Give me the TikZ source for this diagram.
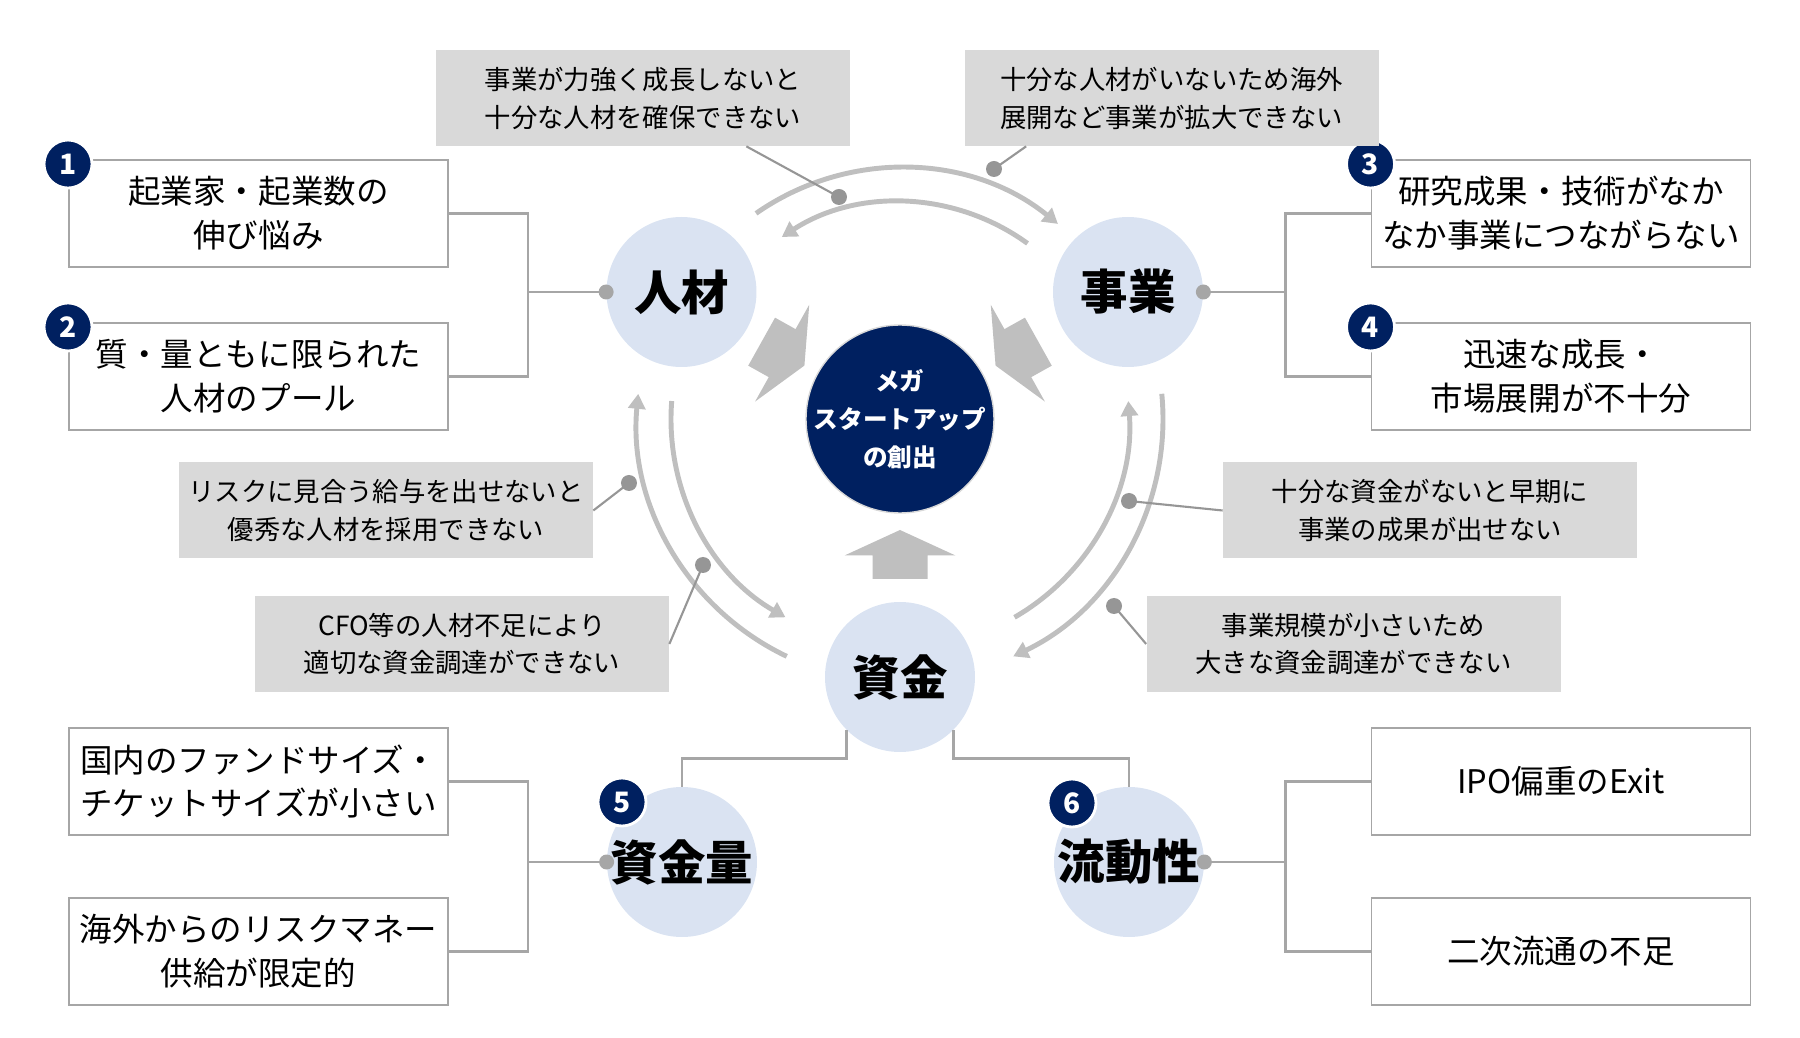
\documentclass[tikz,border=0pt]{standalone}
\usepackage{fontspec}
\setmainfont{Noto Sans CJK JP}
\usepackage{xcolor}
\usetikzlibrary{arrows.meta,positioning,calc}

\definecolor{navy}{RGB}{0,32,96}
\definecolor{circblue}{RGB}{218,227,242}
\definecolor{boxgray}{RGB}{217,217,217}
\definecolor{arcgray}{RGB}{191,191,191}
\definecolor{linegray}{RGB}{166,166,166}
\definecolor{dotgray}{RGB}{150,150,150}

\begin{document}
\begin{tikzpicture}[
  factor/.style={circle, fill=circblue, minimum size=3cm, inner sep=0pt, font=\fontsize{27}{30}\selectfont\bfseries},
  issue/.style={draw=linegray, line width=1.1pt, fill=white, align=center, minimum width=7.58cm, minimum height=2.14cm, font=\fontsize{18.5}{25}\selectfont},
  effect/.style={fill=boxgray, align=center, minimum width=8.28cm, minimum height=1.92cm, font=\fontsize{15}{21.6}\selectfont},
  badge/.style={circle, fill=navy, draw=white, line width=1.6pt, minimum size=0.96cm, inner sep=0pt, text=white, font=\fontsize{16}{16}\selectfont\bfseries},
  link/.style={draw=linegray, line width=1.5pt},
  flow/.style={arcgray, line width=2.8pt, -{Triangle[width=0.34cm,length=0.3cm]}},
  leader/.style={dotgray, line width=1.2pt},
  bigarrow/.pic={\fill[arcgray] (0,-0.55) -- (0.47,-0.55) -- (0.47,-1.11) -- (0.98,0) -- (0.47,1.11) -- (0.47,0.55) -- (0,0.55) -- cycle;}
]
\useasboundingbox (-18,-12.38) rectangle (18,8.38);

% centre
\node[circle, fill=navy, draw=gray!30, line width=0.8pt, minimum size=3.76cm, inner sep=0pt] (mega) at (0,0) {};
\node[text=white, align=center, font=\fontsize{14}{21.6}\selectfont\bfseries] (megatext) at (mega) {メガ\\スタートアップ\\の創出};

% three factors and two sub factors
\node[factor] (jinzai) at (-4.37,2.54) {人材};
\node[factor] (jigyo) at (4.56,2.54) {事業};
\node[factor] (shikin) at (0,-5.16) {資金};
\node[factor] (ryoshi) at (-4.36,-8.86) {資金量};
\node[factor] (ryudo) at (4.58,-8.86) {流動性};

% issues
\node[issue] (i1) at (-12.83,4.11) {起業家・起業数の\\伸び悩み};
\node[issue, below=1.08cm of i1] (i2) {質・量ともに限られた\\人材のプール};
\node[issue] (i3) at (13.22,4.11) {研究成果・技術がなか\\なか事業につながらない};
\node[issue, below=1.08cm of i3] (i4) {迅速な成長・\\市場展開が不十分};
\node[issue] (i5) at (-12.83,-7.25) {国内のファンドサイズ・\\チケットサイズが小さい};
\node[issue, below=1.22cm of i5] (i6) {海外からのリスクマネー\\供給が限定的};
\node[issue] (i7) at (13.22,-7.25) {IPO偏重のExit};
\node[issue, below=1.22cm of i7] (i8) {二次流通の不足};

\node[badge, yshift=-0.1cm] (n1) at (i1.north west) {1};
\node[badge, yshift=-0.1cm] (n2) at (i2.north west) {2};
\node[badge, yshift=-0.1cm] (n3) at (i3.north west) {3};
\node[badge, yshift=-0.1cm] (n4) at (i4.north west) {4};
\node[badge] (n5) at ([shift={(-1.2,1.2)}]ryoshi.center) {5};
\node[badge] (n6) at ([shift={(-1.14,1.18)}]ryudo.center) {6};

% links to the issues
\draw[link] (i1.east) -- ++(1.58,0) coordinate (k1) |- (i2.east);
\draw[link] (jinzai.west) -- (jinzai.west -| k1);
\draw[link] (i3.west) -- ++(-1.7,0) coordinate (k2) |- (i4.west);
\draw[link] (jigyo.east) -- (jigyo.east -| k2);
\draw[link] (i5.east) -- ++(1.58,0) coordinate (k3) |- (i6.east);
\draw[link] (ryoshi.west) -- (ryoshi.west -| k3);
\draw[link] (i7.west) -- ++(-1.7,0) coordinate (k4) |- (i8.west);
\draw[link] (ryudo.east) -- (ryudo.east -| k4);
\draw[link] (shikin.225) -- ++(0,-0.56) -| (ryoshi.north);
\draw[link] (shikin.-45) -- ++(0,-0.56) -| (ryudo.north);
\foreach \p in {jinzai.west, jigyo.east, ryoshi.west, ryudo.east}
  \fill[linegray] (\p) circle (0.15);

% big arrows into the centre
\pic[rotate=-29.2] at ($(mega)+(150.8:3.17)$) {bigarrow};
\pic[rotate=-150.8] at ($(mega)+(29.2:3.17)$) {bigarrow};
\pic[rotate=90] at ($(mega)+(-90:3.2)$) {bigarrow};

% cycle arcs
\draw[flow] (mega.center) ++(125:5.02) arc[start angle=125, end angle=51, radius=5.02];
\draw[flow] (mega.center) ++(54:4.34) arc[start angle=54, end angle=123, radius=4.34];
\draw[flow] (mega.center) ++(244.5:5.26) arc[start angle=244.5, end angle=174.5, radius=5.26];
\draw[flow] (mega.center) ++(175.5:4.58) arc[start angle=175.5, end angle=240, radius=4.58];
\draw[flow] (mega.center) ++(-60:4.58) arc[start angle=-60, end angle=4.5, radius=4.58];
\draw[flow] (mega.center) ++(5.5:5.26) arc[start angle=5.5, end angle=-64.5, radius=5.26];

% effects between the factors
\node[effect] (g1) at (-5.14,6.42) {事業が力強く成長しないと\\十分な人材を確保できない};
\node[effect] (g2) at (5.43,6.42) {十分な人材がいないため海外\\展開など事業が拡大できない};
\node[effect] (g3) at (-10.28,-1.83) {リスクに見合う給与を出せないと\\優秀な人材を採用できない};
\node[effect] (g4) at (10.6,-1.83) {十分な資金がないと早期に\\事業の成果が出せない};
\node[effect] (g5) at (-8.76,-4.5) {CFO等の人材不足により\\適切な資金調達ができない};
\node[effect] (g6) at (9.07,-4.5) {事業規模が小さいため\\大きな資金調達ができない};

\coordinate (d1) at (-1.22,4.44);
\coordinate (d2) at (1.88,5.0);
\coordinate (d3) at (-5.42,-1.28);
\coordinate (d4) at (4.58,-1.64);
\coordinate (d5) at (-3.94,-2.92);
\coordinate (d6) at (4.28,-3.74);
\draw[leader] ([xshift=-2.08cm]g1.south east) -- (d1);
\draw[leader] ([xshift=1.24cm]g2.south west) -- (d2);
\draw[leader] (g3.east) -- (d3);
\draw[leader] (g4.west) -- (d4);
\draw[leader] (g5.east) -- (d5);
\draw[leader] (g6.west) -- (d6);
\foreach \d in {d1,d2,d3,d4,d5,d6}
  \fill[dotgray] (\d) circle (0.16);
\end{tikzpicture}
\end{document}
